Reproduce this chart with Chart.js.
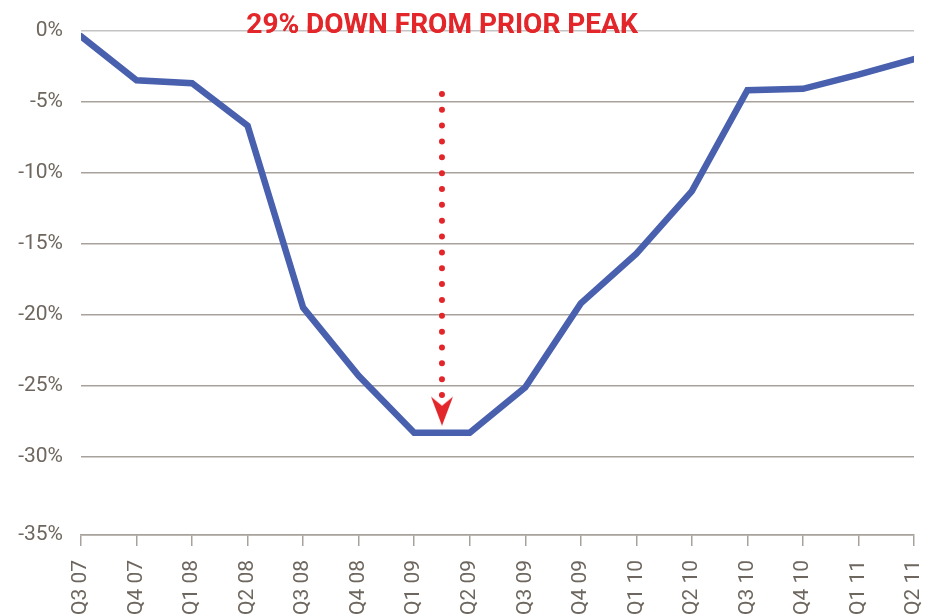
<!DOCTYPE html>
<html>
<head>
<meta charset="utf-8">
<script src="https://cdn.jsdelivr.net/npm/chart.js@4/dist/chart.umd.min.js"></script>
<style>
  html, body { margin: 0; padding: 0; background: #ffffff; }
  #wrap { width: 926px; height: 615px; }
</style>
</head>
<body>
<div id="wrap"><canvas id="c" width="926" height="615"></canvas></div>
<script>
// ---- data ----
const quarters = ['Q3 07','Q4 07','Q1 08','Q2 08','Q3 08','Q4 08','Q1 09','Q2 09','Q3 09','Q4 09','Q1 10','Q2 10','Q3 10','Q4 10','Q1 11','Q2 11'];
const changeFromPeak = [-0.4, -3.5, -3.7, -6.7, -19.5, -24.3, -28.3, -28.3, -25.1, -19.2, -15.7, -11.3, -4.2, -4.1, -3.1, -2.0];
const yTickValues = [0, -5, -10, -15, -20, -25, -30, -35];
const titleText = '29% DOWN FROM PRIOR PEAK';
// arrow annotation (in data units), drawn from bottom to top
const arrowX = [6.5, 6.5];
const arrowY = [-25.65, -3.7];
const arrowHead = { x: 6.5, y: -26.75 };

const yAxisMax = 0;
const yAxisMin = -35.5;

const labelColor = '#6e675f';
const gridColor = '#a8a29c';
const topGridColor = '#c4c4c4';
const lineBlue = '#4860ad';
const red = '#e3262a';

// arrowhead marker image
const headImg = document.createElement('canvas');
headImg.width = 22; headImg.height = 30;
(function () {
  const g = headImg.getContext('2d');
  g.fillStyle = red;
  g.beginPath();
  g.moveTo(0, 1);
  g.lineTo(11, 10);
  g.lineTo(22, 1);
  g.lineTo(11, 30);
  g.closePath();
  g.fill();
})();

const titleKeeper = {
  id: 'titleKeeper',
  afterLayout(chart) {
    const tb = chart.titleBlock;
    if (tb) { const w = 884; tb.left = 0; tb.right = w; tb.width = w; }
  },
  beforeDatasetsDraw(chart) {
    const ctx = chart.ctx;
    ctx.save();
    ctx.fillStyle = '#ffffff';
    ctx.fillRect(241, 0, 401, 26);
    ctx.restore();
    if (chart.titleBlock) chart.titleBlock.draw();
  }
};

new Chart(document.getElementById('c'), {
  type: 'line',
  data: {
    datasets: [
      {
        label: 'Change from prior peak',
        data: changeFromPeak.map((v, i) => ({ x: i, y: v })),
        borderColor: lineBlue,
        borderWidth: 6.5,
        borderJoinStyle: 'miter',
        borderCapStyle: 'round',
        pointRadius: 0,
        tension: 0,
        fill: false,
        order: 1
      },
      {
        label: 'arrow',
        data: arrowX.map((x, i) => ({ x, y: arrowY[i] })),
        borderColor: red,
        borderWidth: 6,
        borderDash: [0, 15.85],
        borderCapStyle: 'round',
        pointRadius: 0,
        fill: false,
        order: 0
      },
      {
        label: 'arrowhead',
        type: 'scatter',
        data: [arrowHead],
        showLine: false,
        pointStyle: headImg,
        pointRadius: 12,
        backgroundColor: red,
        borderColor: red,
        borderWidth: 0,
        order: 0
      }
    ]
  },
  options: {
    responsive: false,
    animation: false,
    devicePixelRatio: 1,
    layout: { padding: { left: 0, right: 10, top: 0, bottom: 0 } },
    plugins: {
      legend: { display: false },
      tooltip: { enabled: false },
      title: {
        display: true,
        text: titleText,
        color: red,
        font: { family: "Roboto, sans-serif", size: 28, weight: 'bold', lineHeight: 1.2 },
        padding: { top: 6, bottom: -12.6 }
      }
    },
    scales: {
      x: {
        type: 'linear',
        min: 0,
        max: quarters.length - 1,
        offset: false,
        grid: { drawOnChartArea: false, drawTicks: true, tickLength: 11, color: gridColor, lineWidth: 1.5 },
        border: { display: true, color: gridColor, width: 1.5 },
        ticks: {
          stepSize: 1,
          autoSkip: false,
          minRotation: 90,
          maxRotation: 90,
          padding: 14,
          color: labelColor,
          font: { family: 'Roboto, sans-serif', size: 21 },
          callback: (v) => quarters[v] !== undefined ? quarters[v] : ''
        },
        afterFit(scale) {
          scale.height = 80;
          scale.paddingLeft = 0;
          scale.paddingRight = 0;
        }
      },
      y: {
        min: yAxisMin,
        max: yAxisMax,
        afterBuildTicks(scale) {
          scale.ticks = yTickValues.map(v => ({ value: v === -35 ? yAxisMin : v }));
        },
        grid: {
          drawTicks: false,
          lineWidth: 1.5,
          color: (c) => {
            const v = c.tick ? c.tick.value : null;
            if (v === 0) return topGridColor;
            return gridColor;
          }
        },
        border: { display: false },
        ticks: {
          padding: 18,
          color: labelColor,
          font: { family: 'Roboto, sans-serif', size: 21 },
          callback: (v) => (Math.round(v / 5) * 5) + '%'
        },
        afterFit(scale) {
          scale.width = 81;
        }
      }
    }
  },
  plugins: [titleKeeper]
});
</script>
</body>
</html>
